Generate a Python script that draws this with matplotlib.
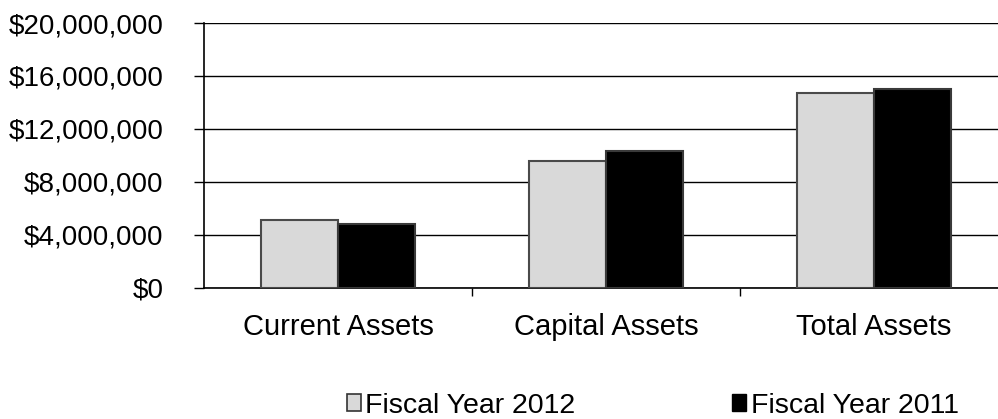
import matplotlib.pyplot as plt
import matplotlib.patches as mpatches
import matplotlib.ticker as mticker
import numpy as np

plt.rcParams['font.family'] = ['Liberation Sans', 'DejaVu Sans']

categories = ['Current Assets', 'Capital Assets', 'Total Assets']
fy2012 = [5100000, 9600000, 14700000]
fy2011 = [4800000, 10300000, 15000000]
series_names = ['Fiscal Year 2012', 'Fiscal Year 2011']
yticks = [0, 4000000, 8000000, 12000000, 16000000, 20000000]

fig = plt.figure(figsize=(9.98, 4.19), dpi=100)
ax = fig.add_axes([0.2044, 0.3138, 0.7956, 0.6313])

x = np.arange(len(categories))
w = 0.287
ax.bar(x - w / 2, fy2012, w, color='#d9d9d9', edgecolor='#4a4a4a', linewidth=1.5, zorder=3)
ax.bar(x + w / 2, fy2011, w, color='#000000', edgecolor='#3a3a3a', linewidth=1.5, zorder=3)

ax.set_ylim(0, 20000000)
ax.set_xlim(-0.5, 2.4627)
ax.set_yticks(yticks)
ax.yaxis.set_major_formatter(mticker.FuncFormatter(lambda v, p: '${:,.0f}'.format(v)))
ax.yaxis.grid(True, color='black', linewidth=1)
ax.set_axisbelow(True)

# category labels sit between the tick marks at the category boundaries
ax.set_xticks([0.5, 1.5])
ax.set_xticklabels([])
ax.set_xticks(x, minor=True)
ax.set_xticklabels(categories, minor=True, fontsize=21)
ax.tick_params(axis='x', which='minor', length=0, pad=18)
ax.tick_params(axis='x', which='major', length=6, direction='out', width=1)
ax.tick_params(axis='y', length=7, direction='out', width=1, labelsize=20, pad=22)

for side in ['top', 'right']:
    ax.spines[side].set_visible(False)
ax.spines['left'].set_linewidth(1.2)
ax.spines['bottom'].set_linewidth(1.2)

handles = [mpatches.Patch(facecolor='#d9d9d9', edgecolor='#333333', linewidth=1.2),
           mpatches.Patch(facecolor='#000000', edgecolor='#000000')]
fig.legend(handles, series_names, ncol=2, loc='center', bbox_to_anchor=(0.654, 0.032),
           frameon=False, fontsize=20.5, handlelength=0.5, handleheight=0.5,
           handletextpad=0.15, columnspacing=5.5)

plt.savefig('out.png', dpi=100)
